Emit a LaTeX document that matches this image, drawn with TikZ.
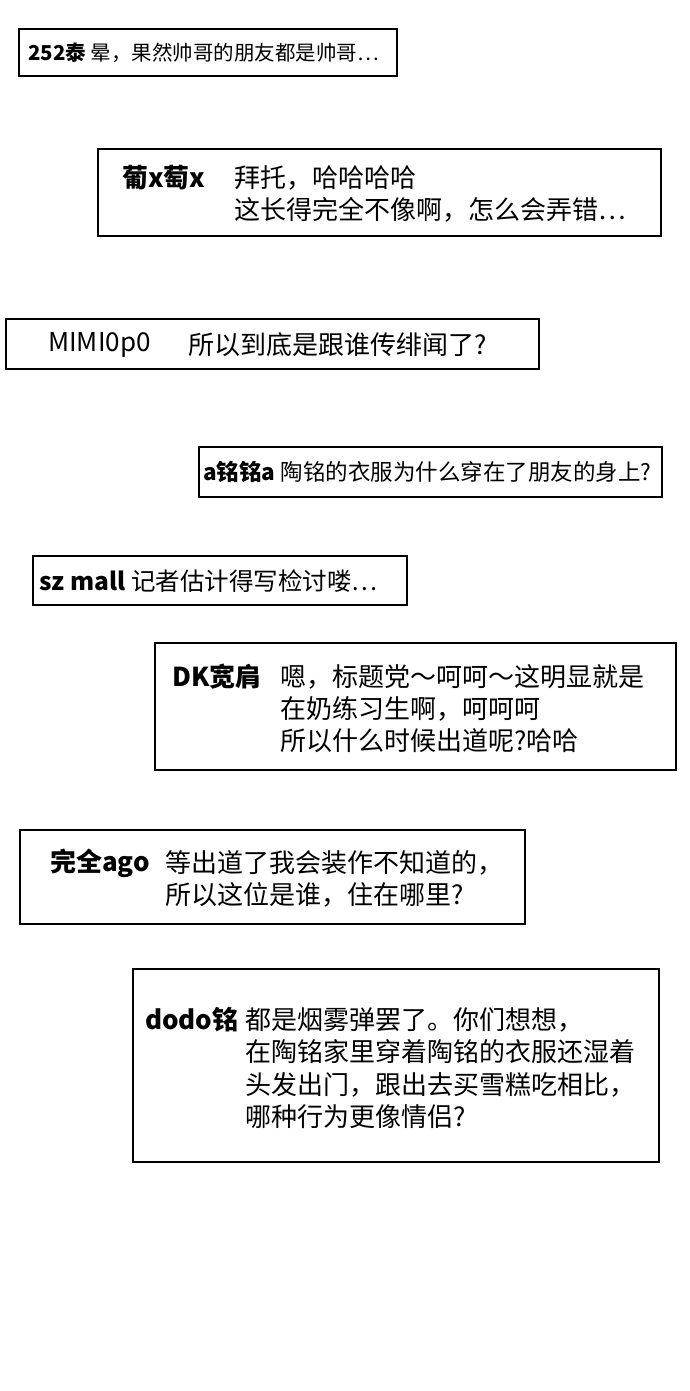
\documentclass[tikz,border=0pt]{standalone}
\usepackage{fontspec}
\setmainfont{Noto Sans CJK SC}
\usetikzlibrary{positioning}
\begin{document}
\begin{tikzpicture}[x=1pt,y=-1pt,
  every node/.style={inner sep=0pt,anchor=west,font=\fontsize{26}{26}\selectfont},
  small/.style={font=\fontsize{#1}{#1}\selectfont},
  box/.style={draw,line width=1.5pt,anchor=center}]
  \useasboundingbox (0,0) rectangle (690,1391);
  % boxes
  \node[box,minimum width=378,minimum height=47] (b1) at (208,52.5){};
  \node[box,minimum width=563,minimum height=87] (b2) at (379.5,192.5){};
  \node[box,minimum width=533,minimum height=50] (b3) at (272.5,344){};
  \node[box,minimum width=463,minimum height=50] (b4) at (430.5,472){};
  \node[box,minimum width=374,minimum height=49] (b5) at (220,580.5){};
  \node[box,minimum width=521,minimum height=127] (b6) at (415.5,706.5){};
  \node[box,minimum width=505,minimum height=94] (b7) at (272.5,877){};
  \node[box,minimum width=526,minimum height=193] (b8) at (396,1065.5){};

  \node[small=20.5] (t1) at (28,53){\textbf{252泰} 晕，果然帅哥的朋友都是帅哥…};
  \node (n2) at (122,178){\textbf{葡x萄x}};
  \node (t2a) at (234,178){拜托，哈哈哈哈};
  \node (t2b) at (234,210){这长得完全不像啊，怎么会弄错…};
  \node (n3) at (48,345){MIMI0p0};
  \node (t3) at (188,345){所以到底是跟谁传绯闻了?};
  \node[small=22.5] (t4) at (203,472){\textbf{a铭铭a} 陶铭的衣服为什么穿在了朋友的身上?};
  \node[small=24.5] (t5) at (39,581){\textbf{sz mall} 记者估计得写检讨喽…};
  \node (n6) at (172,677){\textbf{DK宽肩}};
  \node (t6a) at (280,677){嗯，标题党～呵呵～这明显就是};
  \node (t6b) at (280,709){在奶练习生啊，呵呵呵};
  \node (t6c) at (280,741){所以什么时候出道呢?哈哈};
  \node (n7) at (50,863){\textbf{完全ago}};
  \node (t7a) at (165,863){等出道了我会装作不知道的，};
  \node (t7b) at (165,895){所以这位是谁，住在哪里?};
  \node (n8) at (145,1020){\textbf{dodo铭}};
  \node (t8a) at (245,1020){都是烟雾弹罢了。你们想想，};
  \node (t8b) at (245,1052){在陶铭家里穿着陶铭的衣服还湿着};
  \node (t8c) at (245,1085){头发出门，跟出去买雪糕吃相比，};
  \node (t8d) at (245,1117){哪种行为更像情侣?};
\end{tikzpicture}
\end{document}
